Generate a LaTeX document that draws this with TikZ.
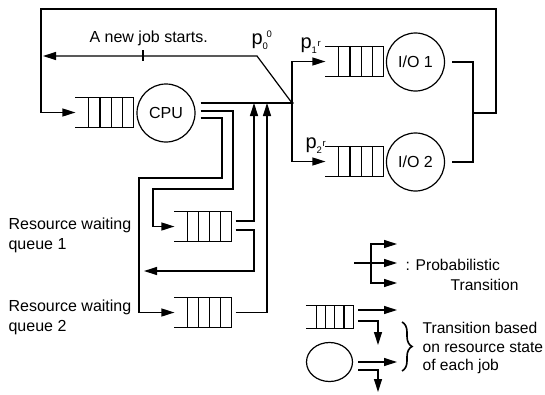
\documentclass[tikz,border=0pt]{standalone}
\usepackage{fontspec}
\setmainfont{Liberation Sans}
\usetikzlibrary{arrows.meta,calc,shapes.geometric,decorations.pathreplacing}
\newcommand\qlines[1]{%
  \draw (#1.north west) -- (#1.north east) -- (#1.south east) -- (#1.south west);
  \foreach \f in {0.228,0.421,0.614,0.807}{\draw ($(#1.north west)!\f!(#1.north east)$) -- ($(#1.south west)!\f!(#1.south east)$);}%
}
% p label: #1 subscript, #2 superscript, #3 raise of superscript, #4 kern before superscript
\newcommand\plab[4]{p\raisebox{-5pt}{\fontsize{9.5}{9.5}\selectfont #1}\kern#4\raisebox{#3}{\fontsize{9.5}{9.5}\selectfont #2}}
\begin{document}
\begin{tikzpicture}[x=1pt,y=-1pt, line width=1.2pt, >={Triangle[length=13pt,width=8pt]},
  txt/.style={font=\fontsize{16}{19}\selectfont, inner sep=0, anchor=base west},
  ltxt/.style={font=\fontsize{15.6}{19}\selectfont, inner sep=0, anchor=base west},
  plabel/.style={font=\fontsize{20}{22}\selectfont, inner sep=0, anchor=base west},
  queue/.style={minimum width=57pt, minimum height=29pt, inner sep=0},
  srv/.style={circle, draw, minimum size=58pt, inner sep=0, font=\fontsize{16}{19}\selectfont},
  dotc/.style={circle, fill, inner sep=0, minimum size=3.5pt}]
\useasboundingbox (0,0) rectangle (545,394);

% queues and servers
\node[queue] (cpuq) at (104.5,112.5) {}; \qlines{cpuq}
\node[srv] (cpu) at (166,113) {CPU};
\node[queue] (io1q) at (354.5,61.5) {}; \qlines{io1q}
\node[srv] (io1) at (415.5,62) {I/O 1};
\node[queue] (io2q) at (354.5,161.5) {}; \qlines{io2q}
\node[srv] (io2) at (415.5,162) {I/O 2};
\node[queue, minimum width=56pt] (w1q) at (203,226.5) {}; \qlines{w1q}
\node[queue, minimum width=56pt] (w2q) at (203,312.5) {}; \qlines{w2q}
\node[queue, minimum width=46pt, minimum height=22pt] (lq) at (329.5,317) {}; \qlines{lq}
\node[ellipse, draw, minimum width=46pt, minimum height=39pt, inner sep=0] (lc) at (329.5,362) {};

\coordinate (J) at (292,103);
\coordinate (M) at (473,113);

% return from I/O to CPU
\draw ([xshift=7pt]io1.east) -| (M);
\draw ([xshift=7pt]io2.east) -| (M);
\draw[->] (M) -- (496,113) -- (496,9) -- (41,9) |- (cpuq.west);

% CPU to junction
\draw ([shift={(5,-10)}]cpu.east) -- (J);
\draw[->] (J) -- (257,56) -- (43,56);
\draw (143,50) -- (143,61);
\draw[->] (J) |- (io1q.west);
\draw[->] (J) |- (io2q.west);
\node[dotc] at (J) {};

% CPU to waiting queues
\draw[->] ([shift={(5,-2)}]cpu.east) -- (233,111) -- (233,189) -- (153,189) |- (w1q.west);
\draw[->] ([shift={(5,5)}]cpu.east) -- (222,118) -- (222,178) -- (139,178) |- (w2q.west);

% waiting queue outputs
\draw[->] ([shift={(4,-5.5)}]w1q.east) -- (254,221) -- (254,103);
\draw[->] ([shift={(4,3.5)}]w1q.east) -- (254,230) -- (254,271) -- (144,271);
\draw[->] ([xshift=4pt]w2q.east) -- (267,312.5) -- (267,103);

% labels
\node[txt] (t0) at (89,42) {A new job starts.};
\node[plabel] (p0) at (251,44) {\plab{0}{0}{7pt}{-1.5pt}};
\node[plabel] (p1) at (300,48.5) {\plab{1}{r}{2pt}{0.5pt}};
\node[plabel] (p2) at (305,148.5) {\plab{2}{r}{2pt}{0.5pt}};
\node[txt] (r1a) at (8,229) {Resource waiting};
\node[txt] (r1b) at (8,249) {queue 1};
\node[txt] (r2a) at (8,311) {Resource waiting};
\node[txt] (r2b) at (8,331) {queue 2};

% legend
\coordinate (P) at (371,263);
\draw (354,263) -- (P);
\draw[->] (P) -- (397,263);
\draw[->] (P) |- (397,244);
\draw[->] (P) |- (397,283);
\node[dotc] at (P) {};
\node[ltxt] (lg1) at (405,270) {: Probabilistic};
\node[ltxt] (lg2) at (450,290) {Transition};

\draw[->] ([shift={(5,-7)}]lq.east) -- (397,310);
\draw[->] ([shift={(5,4)}]lq.east) -- (378,321) -- (378,345);
\draw[->] ([shift={(5,0)}]lc.east) -- (397,362);
\draw[->] ([shift={(5,8)}]lc.east) -- (378,370) -- (378,392);
\draw[decorate, decoration={brace, amplitude=10pt}, line width=1.6pt] (402,322) -- (402,371);
\node[ltxt] (lg3) at (422,333) {Transition based};
\node[ltxt] (lg4) at (422,352) {on resource state};
\node[ltxt] (lg5) at (422,370) {of each job};
\end{tikzpicture}
\end{document}
